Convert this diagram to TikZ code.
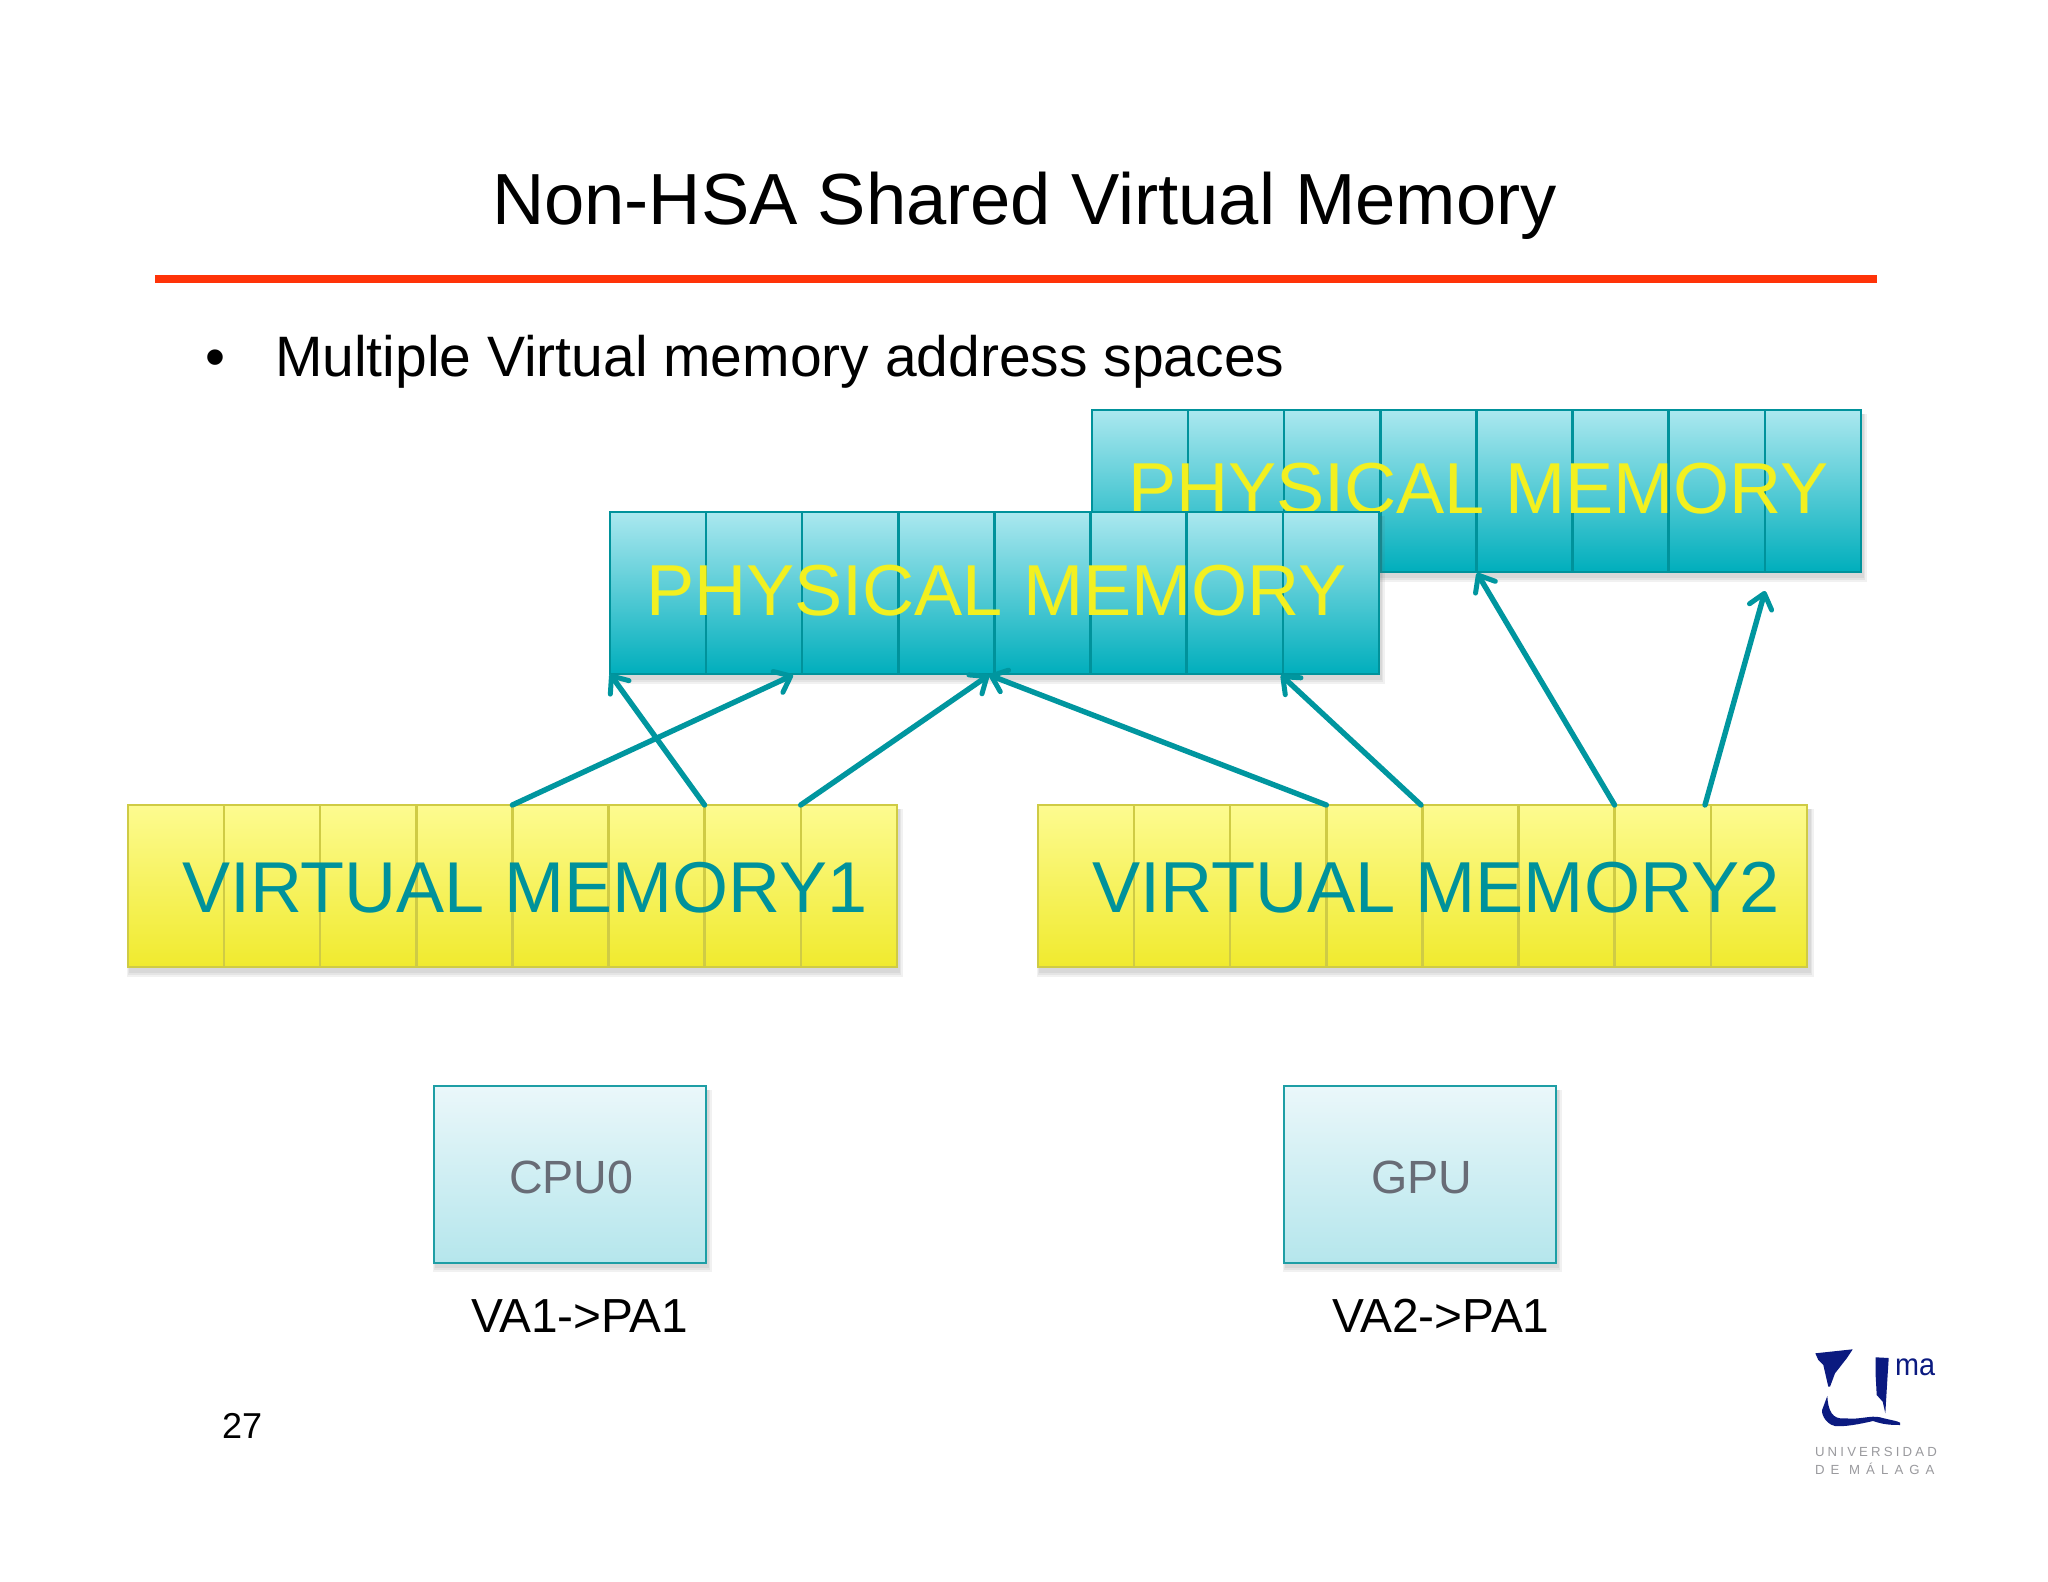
\documentclass[tikz,border=0pt]{standalone}
\usepackage{fontspec}
\setmainfont{Liberation Sans}
\newfontfamily\logofonta[LetterSpace=24]{Liberation Sans}
\newfontfamily\logofontb[LetterSpace=46]{Liberation Sans}
\usetikzlibrary{arrows.meta}
\definecolor{teal1}{HTML}{00929B}
\definecolor{arrowteal}{HTML}{00969F}
\definecolor{tealtop}{HTML}{ABE8EF}
\definecolor{tealbot}{HTML}{00AEBC}
\definecolor{yeltop}{HTML}{FDFB90}
\definecolor{yelbot}{HTML}{F0EA2E}
\definecolor{yelline}{HTML}{CFCB45}
\definecolor{yeltext}{HTML}{F2F020}
\definecolor{cputop}{HTML}{EAF7FA}
\definecolor{cpubot}{HTML}{B5E6EC}
\definecolor{cpuline}{HTML}{1E9EA5}
\definecolor{graytext}{HTML}{686C76}
\definecolor{navy}{HTML}{0B1A80}
\definecolor{logogray}{HTML}{9A9A9E}
\definecolor{redline}{HTML}{FF3308}
\tikzset{
  x=0.5pt,y=-0.5pt,
  lbl/.style={anchor=base west,inner sep=0pt,outer sep=0pt},
  physcell/.style={rectangle,draw=teal1,line width=1.2pt,top color=tealtop,bottom color=tealbot,minimum width=48.05pt,minimum height=81pt,inner sep=0pt,outer sep=0pt,anchor=north west},
  virtcell/.style={rectangle,draw=yelline,line width=1.2pt,top color=yeltop,bottom color=yelbot,minimum width=48.05pt,minimum height=81pt,inner sep=0pt,outer sep=0pt,anchor=north west},
  cpubox/.style={rectangle,draw=cpuline,line width=1.2pt,top color=cputop,bottom color=cpubot,minimum width=136pt,minimum height=88.5pt,inner sep=0pt,outer sep=0pt,anchor=north west},
  softshadow/.style={fill=black!60,opacity=0.09,draw=none},
  link/.style={draw=arrowteal,line width=2.7pt,-{Straight Barb[length=7pt,width=11.5pt,line width=2.5pt,round]},line cap=round},
}
\newcommand{\softbox}[4]{%
  \fill[softshadow] (#1-1,#2+4) rectangle (#3+6,#4+10);
  \fill[softshadow] (#1,#2+4) rectangle (#3+4,#4+8);
  \fill[softshadow] (#1+1,#2+4) rectangle (#3+3,#4+6);
}
\begin{document}
\begin{tikzpicture}
\useasboundingbox (0,0) rectangle (2048,1582);
\fill[white] (0,0) rectangle (2048,1582);

\node[lbl,font=\fontsize{36.2}{36}\selectfont] (title) at (492,224.5) {Non-HSA Shared Virtual Memory};
\fill[redline] (155,275) rectangle (1877,283);
\node[lbl,font=\fontsize{28.5}{28}\selectfont] (bullet) at (205,377) {•};
\node[lbl,font=\fontsize{28.5}{28}\selectfont] (body) at (275,377) {Multiple Virtual memory address spaces};

% back physical memory
\softbox{1092}{410}{1861}{572}
\foreach \i in {1,...,8}
  \node[physcell] (pb\i) at ({1092+96.1*(\i-1)},410) {};
\node[lbl,text=yeltext,font=\fontsize{36.1}{36}\selectfont] (pbtext) at (1128,514) {PHYSICAL MEMORY};

% front physical memory
\softbox{610}{512}{1379}{674}
\foreach \i in {1,...,8}
  \node[physcell] (pf\i) at ({610+96.1*(\i-1)},512) {};
\node[lbl,text=yeltext,font=\fontsize{36.1}{36}\selectfont] (pftext) at (646,616) {PHYSICAL MEMORY};

% virtual memories
\softbox{128}{805}{897}{967}
\foreach \i in {1,...,8}
  \node[virtcell] (va\i) at ({128+96.1*(\i-1)},805) {};
\node[lbl,text=teal1,font=\fontsize{36}{36}\selectfont] (vatext) at (182,912) {VIRTUAL MEMORY1};
\softbox{1038}{805}{1808}{967}
\foreach \i in {1,...,8}
  \node[virtcell] (vb\i) at ({1038+96.1*(\i-1)},805) {};
\node[lbl,text=teal1,font=\fontsize{36.1}{36}\selectfont] (vbtext) at (1092,912) {VIRTUAL MEMORY2};

% processors
\softbox{434}{1086}{706}{1262}
\node[cpubox] (cpu) at (434,1086) {};
\node[lbl,text=graytext,font=\fontsize{23.3}{24}\selectfont] (cputext) at (509,1193) {CPU0};
\softbox{1284}{1086}{1556}{1262}
\node[cpubox] (gpu) at (1284,1086) {};
\node[lbl,text=graytext,font=\fontsize{23.3}{24}\selectfont] (gputext) at (1371,1193) {GPU};
\node[lbl,font=\fontsize{23.9}{24}\selectfont] (vaone) at (471,1332) {VA1->PA1};
\node[lbl,font=\fontsize{23.9}{24}\selectfont] (vatwo) at (1332,1332) {VA2->PA1};
\node[lbl,font=\fontsize{18}{18}\selectfont] (pagenum) at (222,1438) {27};

% arrow ends that stop short of a cell corner
\coordinate (tA) at (793,675);
\coordinate (tB) at (989,675);
\coordinate (tC) at (1281,675);
\coordinate (tD) at (1477,573);
\coordinate (tE) at (1765,591);
\coordinate (sE) at (1705,805);
\coordinate (sC) at (1421,805);

\draw[link] (va7.north west) -- (pf1.south west);
\draw[link] (va5.north west) -- (tA);
\draw[link] (va8.north west) -- (tB);
\draw[link] (vb4.north west) -- (tB);
\draw[link] (sC) -- (tC);
\draw[link] (vb7.north west) -- (tD);
\draw[link] (sE) -- (tE);

% logo
\fill[navy] (1815.3,1353.3) -- (1852.7,1349.3) -- (1846.7,1358.3) -- (1835,1373.3) -- (1830,1386.7) -- (1828.3,1386.7) -- (1823.3,1365) -- (1818.3,1360) -- cycle;
\fill[navy] (1875.7,1357.3) -- (1888.7,1358) -- (1887.3,1380) -- (1885.3,1413.3) -- (1882.7,1401.7) -- (1876.7,1395) -- (1875.7,1376.7) -- cycle;
\fill[navy] (1827.3,1396) .. controls (1828,1410) and (1832,1420) .. (1845,1418.3)
  .. controls (1860,1420) and (1870,1415) .. (1880,1417.3)
  .. controls (1890,1420) and (1898,1421) .. (1900,1422.7)
  -- (1900,1425) .. controls (1888,1425) and (1882,1424) .. (1873,1421)
  .. controls (1860,1424) and (1845,1427) .. (1835,1426)
  .. controls (1825,1424) and (1820,1412) .. (1822.7,1408.3) -- cycle;
\node[lbl,text=navy,font=\fontsize{15.5}{15}\selectfont,xscale=0.93] (logoma) at (1895,1375) {ma};
\node[lbl,text=logogray,font=\logofonta\fontsize{6.6}{7}\selectfont] (logoa) at (1815,1456) {UNIVERSIDAD};
\node[lbl,text=logogray,font=\logofontb\fontsize{6.6}{7}\selectfont] (logob) at (1815,1474) {DE MÁLAGA};
\end{tikzpicture}
\end{document}
